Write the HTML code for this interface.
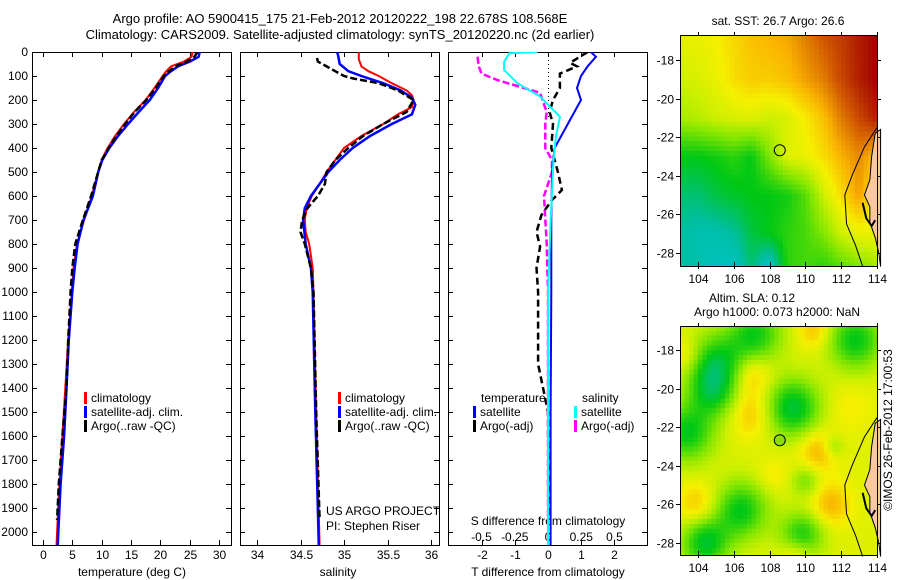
<!DOCTYPE html>
<html><head><meta charset="utf-8">
<style>
html,body{margin:0;padding:0;background:#fff;}
svg{display:block;font-family:"Liberation Sans",sans-serif;}
text{font-size:12px;fill:#000;}
</style></head>
<body>
<svg id="fig" width="900" height="580" viewBox="0 0 900 580" xmlns="http://www.w3.org/2000/svg">
<text x="340" y="23" text-anchor="middle" style="font-size:13px">Argo profile: AO 5900415_175 21-Feb-2012 20120222_198 22.678S 108.568E</text>
<text x="340" y="39" text-anchor="middle" style="font-size:13px">Climatology: CARS2009. Satellite-adjusted climatology: synTS_20120220.nc (2d earlier)</text>
<g id="g"></g>
<text transform="translate(892,430) rotate(-90)" text-anchor="middle">©IMOS 26-Feb-2012 17:00:53</text>
</svg>
<script>
// ---- profile data ----
const tDepthClim=[0,20,40,60,80,100,150,200,250,300,350,400,450,500,600,700,800,900,1000,1200,1400,1600,1800,2000,2058];
const tClim=[25.5,25.3,24,21.8,21,20.4,19,17.5,15.5,13.8,12.3,11,10,9.4,8.3,7,5.8,5.2,4.9,4.3,3.8,3.3,2.8,2.4,2.3];
const tDepthSat=[0,20,40,60,80,100,150,200,250,300,350,400,450,500,600,700,800,900,1000,1200,1400,1600,1800,2000,2058];
const tSat=[26.7,26.5,25,23,21.8,20.8,19.6,18.2,16.3,14.5,12.8,11.3,10.1,9.4,8.5,6.9,5.9,5.4,5,4.4,4,3.6,3.0,2.6,2.5];
const tDepthArgo=[0,20,40,60,80,100,150,200,250,300,350,400,450,500,600,700,800,900,1000,1200,1400,1600,1800,1950];
const tArgo=[26.3,25.8,24.5,22.5,21.5,20.6,19.2,17.6,15.6,14,12.5,11.2,10,9.4,8.2,6.8,5.5,5,4.7,4.3,4,3.3,2.7,2.4];
const sDepthClim=[0,30,60,80,100,130,160,180,200,230,260,300,350,400,450,500,550,600,650,700,750,800,900,1000,1500,2058];
const sClim=[35.17,35.17,35.2,35.28,35.4,35.55,35.72,35.78,35.8,35.78,35.62,35.45,35.2,35.0,34.9,34.8,34.72,34.63,34.57,34.55,34.56,34.6,34.64,34.65,34.68,34.72];
const sDepthSat=[0,10,50,80,100,130,160,190,220,260,300,350,400,450,500,550,600,650,700,800,900,1000,1500,2058];
const sSat=[34.92,34.93,34.95,35.05,35.2,35.45,35.65,35.78,35.82,35.78,35.55,35.3,35.1,34.95,34.82,34.72,34.62,34.55,34.53,34.56,34.62,34.64,34.67,34.71];
const sDepthArgo=[25,40,60,80,100,110,130,160,200,250,300,350,400,450,500,550,600,650,700,750,800,900,1000,1500,1950];
const sArgo=[34.69,34.7,34.8,34.9,35.0,35.1,35.4,35.62,35.8,35.72,35.45,35.22,35.05,34.9,34.8,34.78,34.7,34.58,34.52,34.5,34.55,34.62,34.65,34.68,34.72];
// differences
const dDepthTSat=[0,20,60,100,150,200,250,300,350,400,500,700,1000,1500,2058];
const dTSat=[1.3,1.45,1.2,1.0,0.88,1.0,0.8,0.6,0.4,0.2,0.12,0.1,0.1,0.08,0.08];
const dDepthTArgo=[0,45,60,90,150,200,250,300,400,500,575,620,680,750,810,900,1000,1300,1500,1950];
const dTArgo=[1.2,0.67,0.88,0.36,0.36,0.15,0.05,0.15,0.1,0.3,0.42,0.1,-0.2,-0.35,-0.24,-0.35,-0.3,-0.3,0,0.02];
const dDepthSSat=[0,5,40,75,130,185,270,350,460,700,1000,2058];
const dSSat=[-0.08,-0.29,-0.33,-0.33,-0.23,-0.06,0.09,0.06,0.04,0.02,0.0,0.0];
const dDepthSArgo=[20,60,90,117,170,250,300,400,450,500,600,800,1000,1500,1950];
const dSArgo=[-0.53,-0.52,-0.5,-0.38,-0.06,-0.01,-0.02,-0.02,0.03,0.03,-0.03,-0.01,0,0,0];
// ---- map data ----
const mapLats=[-16.7,-19,-21,-23,-25,-27,-28.7];
const sstGrid=[
[0.6,0.6,0.62,0.66,0.7,0.72,0.74,0.8,0.86,0.9,0.95,1.0],
[0.55,0.57,0.6,0.65,0.68,0.68,0.7,0.75,0.8,0.88,0.95,1.0],
[0.5,0.52,0.55,0.57,0.58,0.55,0.57,0.63,0.7,0.8,0.88,0.95],
[0.3,0.3,0.32,0.35,0.3,0.45,0.58,0.6,0.65,0.72,0.78,0.7],
[0.2,0.2,0.25,0.28,0.3,0.3,0.32,0.4,0.55,0.65,0.75,0.6],
[0.15,0.12,0.12,0.15,0.25,0.3,0.35,0.38,0.45,0.55,0.6,0.6],
[0.15,0.12,0.1,0.08,0.2,0.05,0.35,0.38,0.35,0.4,0.45,0.5]];
// SLA anomalies: lon, lat, radius(deg), amplitude
const slaLon=[105,104.8,107.2,112.8,109.3,103.4,106.4,104.4,109.8,110,111.6,107,107,110.7,111.4,104,103.3,110.5,109.5,108.2,112.5];
const slaLat=[-18.8,-20.3,-17.2,-17.5,-21,-22.3,-26.3,-28,-27.6,-24.8,-23,-19.3,-21.3,-23.2,-26,-26,-18.3,-17,-28.6,-24.5,-21];
const slaRad=[1.6,1.3,1.5,1.5,1.5,1.5,1.5,1.3,1.2,0.8,0.6,1.1,1.2,1.1,1.1,1.1,0.9,0.9,0.9,0.9,1.2];
const slaAmp=[-0.3,-0.2,-0.26,-0.28,-0.32,-0.28,-0.28,-0.3,-0.26,-0.14,-0.12,0.14,0.12,0.14,0.14,0.12,0.1,0.12,0.12,0.06,0.05];

const NS="http://www.w3.org/2000/svg";
const G=document.getElementById('g');
function el(tag,attrs,parent,txt){const e=document.createElementNS(NS,tag);for(const k in attrs)e.setAttribute(k,attrs[k]);if(txt!==undefined)e.textContent=txt;(parent||G).appendChild(e);return e;}
const yD=d=>52+d*0.24;
const xT=t=>43+t*5.87;
const xS=s=>257+(s-34)*87;
const xdT=v=>548+v*33;
const xdS=v=>548+v*133;

function line(depths,vals,xf,color,w,dash,name,clipId){
  const pts=depths.map((d,i)=>xf(vals[i]).toFixed(1)+','+yD(d).toFixed(1)).join(' ');
  const p=el('polyline',{points:pts,fill:'none',stroke:color,'stroke-width':w,'clip-path':'url(#'+clipId+')'});
  if(dash)p.setAttribute('stroke-dasharray',dash);
  
  
}
const defs=el('defs',{});
function panel(x0,x1,id){
  const c=el('clipPath',{id:id},defs);el('rect',{x:x0,y:52,width:x1-x0,height:493},c);
  const r=el('rect',{x:x0+0.5,y:52.5,width:x1-x0,height:493,fill:'none',stroke:'#000','stroke-width':1});
  
  
  for(let d=0;d<=2000;d+=100){const y=Math.round(yD(d))+0.5;
    el('line',{x1:x0,x2:x0+5,y1:y,y2:y,stroke:'#000'});el('line',{x1:x1-5,x2:x1,y1:y,y2:y,stroke:'#000'});}
}
panel(32,231,'temp-panel');panel(240,439,'sal-panel');panel(448,647,'diff-panel');
const depthTicks=[0,100,200,300,400,500,600,700,800,900,1000,1100,1200,1300,1400,1500,1600,1700,1800,1900,2000];
depthTicks.forEach(d=>{const t=el('text',{x:28,y:yD(d)+4,'text-anchor':'end'},G,String(d));
  
  });
const tempTicks=[0,5,10,15,20,25,30];
tempTicks.forEach(v=>{const x=Math.round(xT(v))+0.5;el('line',{x1:x,x2:x,y1:540,y2:545,stroke:'#000'});el('line',{x1:x,x2:x,y1:52,y2:57,stroke:'#000'});
  const t=el('text',{x:x,y:559,'text-anchor':'middle'},G,String(v));
  
  });
el('text',{x:132,y:576,'text-anchor':'middle',},G,'temperature (deg C)');
const salTicks=[34,34.5,35,35.5,36];
salTicks.forEach(v=>{const x=Math.round(xS(v))+0.5;el('line',{x1:x,x2:x,y1:540,y2:545,stroke:'#000'});el('line',{x1:x,x2:x,y1:52,y2:57,stroke:'#000'});
  const t=el('text',{x:x,y:559,'text-anchor':'middle'},G,String(v));
  
  });
el('text',{x:338,y:576,'text-anchor':'middle',},G,'salinity');
const dTTicks=[-2,-1,0,1,2];
dTTicks.forEach(v=>{const x=Math.round(xdT(v))+0.5;el('line',{x1:x,x2:x,y1:540,y2:545,stroke:'#000'});el('line',{x1:x,x2:x,y1:52,y2:57,stroke:'#000'});
  const t=el('text',{x:x,y:559,'text-anchor':'middle'},G,String(v));
  
  });
const dSTicks=[-0.5,-0.25,0,0.25,0.5];
dSTicks.forEach(v=>{const t=el('text',{x:xdS(v),y:541,'text-anchor':'middle'},G,String(v));
  
  });
el('text',{x:548,y:525,'text-anchor':'middle',},G,'S difference from climatology');
el('text',{x:548,y:576,'text-anchor':'middle',},G,'T difference from climatology');
el('line',{x1:548.5,x2:548.5,y1:52,y2:120,stroke:'#000','stroke-dasharray':'1,3'});

line(tDepthClim,tClim,xT,'#f00',2,null,'temp-climatology-line','temp-panel');
line(tDepthSat,tSat,xT,'#00f',2.5,null,'temp-satellite-line','temp-panel');
line(tDepthArgo,tArgo,xT,'#000',2.5,'7,3','temp-argo-line','temp-panel');
line(sDepthClim,sClim,xS,'#f00',2,null,'sal-climatology-line','sal-panel');
line(sDepthSat,sSat,xS,'#00f',2.5,null,'sal-satellite-line','sal-panel');
line(sDepthArgo,sArgo,xS,'#000',2.5,'7,3','sal-argo-line','sal-panel');
line(dDepthTArgo,dTArgo,xdT,'#000',2.5,'7,4','tdiff-argo-line','diff-panel');
line(dDepthSArgo,dSArgo,xdS,'#f0f',2.5,'7,3','sdiff-argo-line','diff-panel');
line(dDepthTSat,dTSat,xdT,'#00f',2,null,'tdiff-satellite-line','diff-panel');
line(dDepthSSat,dSSat,xdS,'#0ff',2,null,'sdiff-satellite-line','diff-panel');

function leg(x,y,color,label,name){el('rect',{x:x,y:y-10,width:3,height:12,fill:color});
  const t=el('text',{x:x+7,y:y},G,label);
  
  }
[[32+52,'temp'],[240+98,'sal']].forEach(([x,n])=>{
  leg(x,402,'#f00','climatology',n+'-legend-climatology');
  leg(x,416,'#00f','satellite-adj. clim.',n+'-legend-satellite');
  leg(x,430,'#000','Argo(..raw -QC)',n+'-legend-argo');});
el('text',{x:481,y:402,},G,'temperature');
leg(473,416,'#00f','satellite','tdiff-legend-satellite');
leg(473,430,'#000','Argo(-adj)','tdiff-legend-argo');
el('text',{x:582,y:402,},G,'salinity');
leg(574,416,'#0ff','satellite','sdiff-legend-satellite');
leg(574,430,'#f0f','Argo(-adj)','sdiff-legend-argo');
el('text',{x:326,y:515,},G,'US ARGO PROJECT');
el('text',{x:326,y:530,},G,'PI: Stephen Riser');

// ---- maps ----
const stops=[[0,[0,200,235]],[0.15,[0,190,160]],[0.3,[0,200,20]],[0.45,[130,230,0]],[0.55,[205,240,0]],[0.62,[245,240,0]],[0.72,[250,180,0]],[0.85,[210,90,0]],[1,[160,0,0]]];
function cmap(v){v=Math.max(0,Math.min(1,v));for(let i=1;i<stops.length;i++){if(v<=stops[i][0]){const a=stops[i-1],b=stops[i],f=(v-a[0])/(b[0]-a[0]);
  return 'rgb('+a[1].map((c,k)=>Math.round(c+(b[1][k]-c)*f)).join(',')+')';}}return 'rgb(160,0,0)';}
function sstField(lon,lat){
  const grid=sstGrid;
  let i=0;while(i<mapLats.length-2&&lat<mapLats[i+1])i++;
  const fy=Math.max(0,Math.min(1,(lat-mapLats[i])/(mapLats[i+1]-mapLats[i])));
  let j=Math.max(0,Math.min(10,Math.floor(lon-103)));const fx=Math.max(0,Math.min(1,lon-103-j));
  const a=grid[i][j]*(1-fx)+grid[i][j+1]*fx,b=grid[i+1][j]*(1-fx)+grid[i+1][j+1]*fx;return a*(1-fy)+b*fy;}
function slaField(lon,lat){
  let v=0.58;
  for(let k=0;k<slaLon.length;k++){const dx=lon-slaLon[k],dy=lat-slaLat[k];v+=slaAmp[k]*Math.exp(-(dx*dx+dy*dy)/(slaRad[k]*slaRad[k]));}
  return v;}
function map(cfg){
  const {x0,x1,y0,y1,y18,y28,field,name,cell,mfill}=cfg;
  const ppx=(877-698)/10, ppy=(y28-y18)/10;
  const X=lon=>698+(lon-104)*ppx, Y=lat=>y18+(-18-lat)*ppy;
  const latTop=-18+(y18-y0)/ppy, latBot=-18-(y1-y18)/ppy;
  const gm=el('g',{'shape-rendering':'crispEdges'});
  
  
  for(let lat=latTop;lat>latBot+1e-6;lat-=cell){for(let lon=103;lon<114-1e-6;lon+=cell){
    const v=field(lon+cell/2,lat-cell/2);
    const xa=X(lon),ya=Y(lat);
    const h=Math.min(ppy*cell+0.6,y1-ya);
    el('rect',{x:xa.toFixed(1),y:ya.toFixed(1),width:(ppx*cell+0.6).toFixed(1),height:h.toFixed(1),fill:cmap(v)},gm);}}
  const land=el('path',{d:`M${X(114.2)},${Y(-21.6)} L${X(113.9)},${Y(-21.8)} L${X(113.7)},${Y(-23)} L${X(113.6)},${Y(-24.2)} L${X(113.3)},${Y(-25)} L${X(113.6)},${Y(-25.6)} L${X(113.6)},${Y(-26.4)} L${X(113.9)},${Y(-27.2)} L${X(114.1)},${Y(-28.0)} L${X(114.2)},${Y(-28.7)} Z`,fill:'#fcc896',stroke:'#000','stroke-width':1});
  
  
  el('polyline',{points:`${X(114)},${Y(-21.5)} ${X(113.3)},${Y(-22.5)} ${X(112.6)},${Y(-24)} ${X(112.2)},${Y(-25)} ${X(112.3)},${Y(-26.5)} ${X(112.8)},${Y(-27.6)} ${X(113.2)},${Y(-28.7)}`,fill:'none',stroke:'#000','stroke-width':1});
  el('polyline',{points:`${X(113.2)},${Y(-25.4)} ${X(113.4)},${Y(-26.2)} ${X(113.7)},${Y(-26.6)} ${X(113.9)},${Y(-26.3)}`,fill:'none',stroke:'#000','stroke-width':2});
  el('rect',{x:x0+0.5,y:y0+0.5,width:x1-x0,height:y1-y0,fill:'none',stroke:'#000'});
  [104,106,108,110,112,114].forEach(l=>{const x=Math.round(X(l))+0.5;el('line',{x1:x,x2:x,y1:y1-4,y2:y1+3,stroke:'#000'});el('line',{x1:x,x2:x,y1:y0-3,y2:y0,stroke:'#000'});
    const t=el('text',{x:x,y:y1+17,'text-anchor':'middle'},G,String(l));
    
    });
  [-18,-20,-22,-24,-26,-28].forEach(l=>{const y=Math.round(Y(l))+0.5;el('line',{x1:x0-4,x2:x0,y1:y,y2:y,stroke:'#000'});el('line',{x1:x1,x2:x1+4,y1:y,y2:y,stroke:'#000'});
    const t=el('text',{x:x0-6,y:y+4,'text-anchor':'end'},G,String(l));
    
    });
  const m=el('circle',{cx:X(108.568),cy:Y(-22.678),r:5.5,fill:mfill,stroke:'#000','stroke-width':1});
  
  
}
map({x0:680,x1:877,y0:35,y1:266,y18:60,y28:253,field:sstField,name:'sst-map',cell:0.25,mfill:'none'});
map({x0:680,x1:877,y0:326,y1:555,y18:350,y28:543,field:slaField,name:'sla-map',cell:0.25,mfill:'#8be000'});
el('text',{x:778,y:25,'text-anchor':'middle',},G,'sat. SST: 26.7 Argo: 26.6');
el('text',{x:752,y:302,'text-anchor':'middle',},G,'Altim. SLA: 0.12');
el('text',{x:777,y:316,'text-anchor':'middle',},G,'Argo h1000: 0.073 h2000: NaN');
</script>
</body></html>
